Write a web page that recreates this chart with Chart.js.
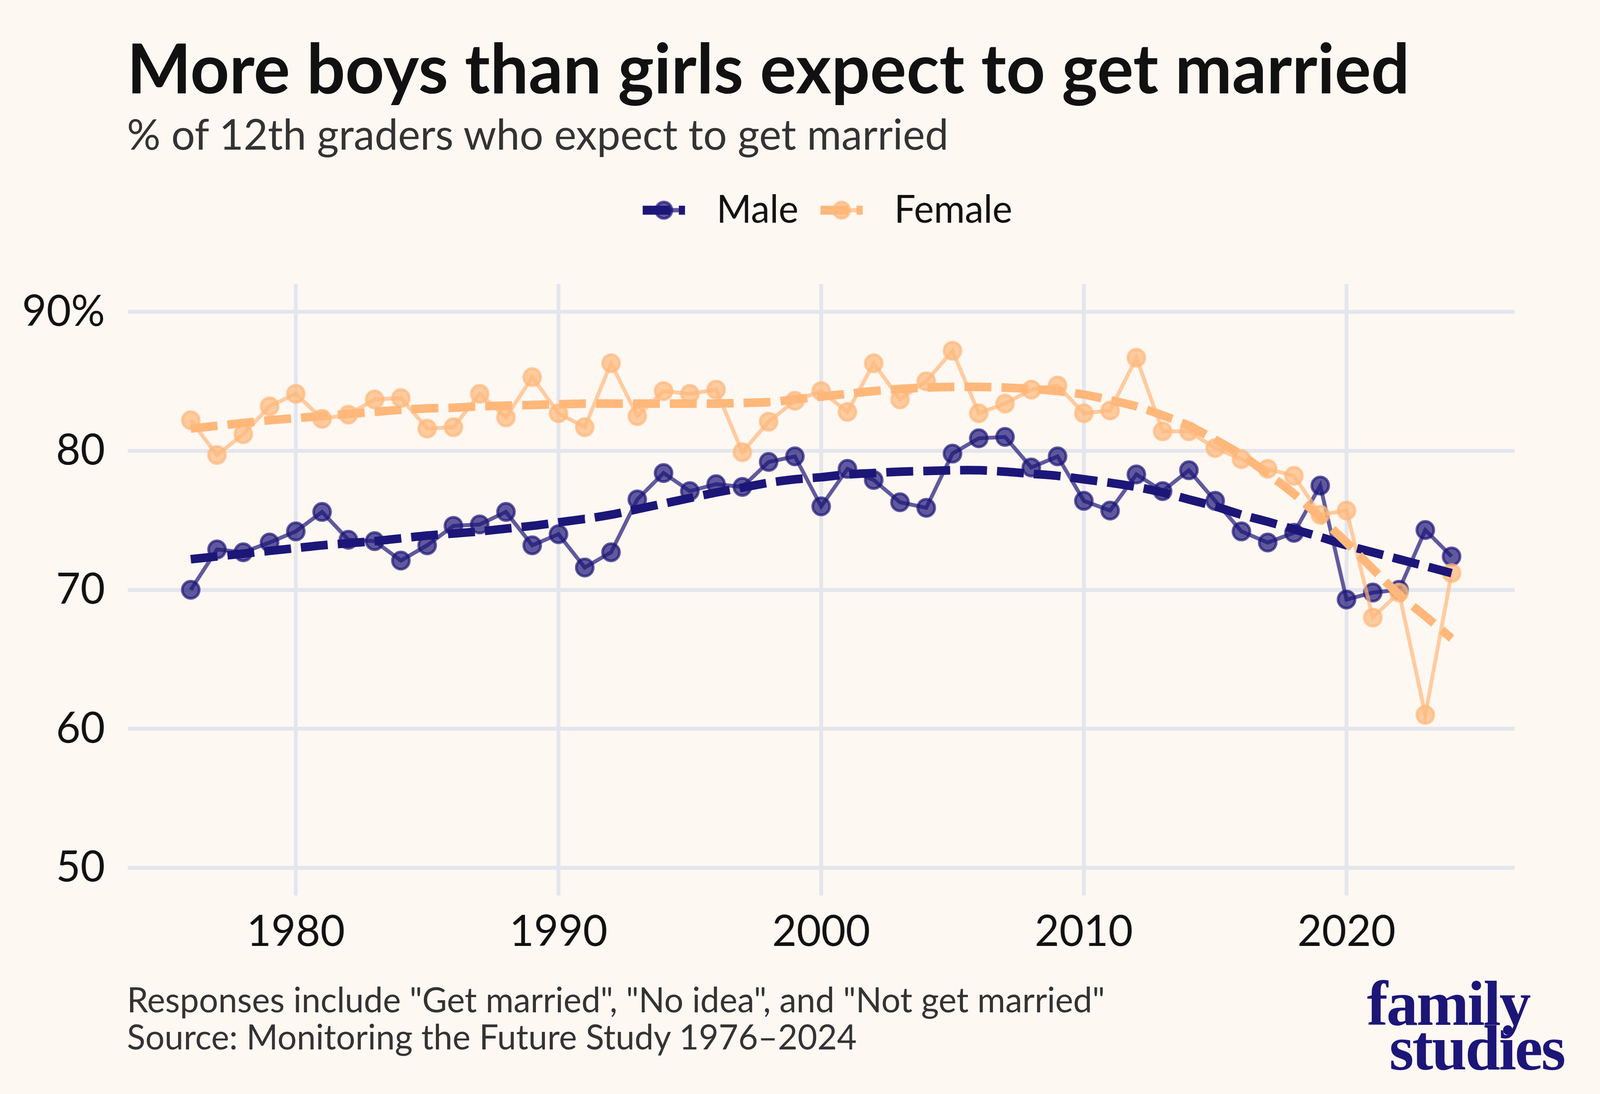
<!DOCTYPE html>
<html>
<head>
<meta charset="utf-8">
<script src="https://cdn.jsdelivr.net/npm/chart.js@4.4.1/dist/chart.umd.min.js"></script>
<style>
  html, body { margin: 0; padding: 0; background: #fef8f3; overflow: hidden; }
  #wrap { position: relative; width: 4160px; height: 2800px; overflow: hidden; font-family: Lato, sans-serif;
          transform-origin: 0 0; }
  #c { position: absolute; left: 0; top: 0; }
  .txt { position: absolute; left: 330px; line-height: 1; white-space: nowrap; }
  #title { top: 82px; font-size: 177px; font-weight: 700; color: #111; }
  #sub { top: 286px; font-size: 109px; color: #333; }
  #note { top: 2510px; font-size: 88.5px; line-height: 95px; color: #333; }
  .logo { position: absolute; font-family: "Liberation Serif", serif; font-weight: 700; font-size: 164px;
          line-height: 114px; letter-spacing: -4px; color: #1c1678; white-space: nowrap; }
</style>
</head>
<body>
<div id="wrap">
  <canvas id="c" width="4160" height="2800"></canvas>
  <div class="txt" id="title">More boys than girls expect to get married</div>
  <div class="txt" id="sub">% of 12th graders who expect to get married</div>
  <div class="txt" id="note">Responses include "Get married", "No idea", and "Not get married"<br>Source: Monitoring the Future Study 1976–2024</div>
  <div class="logo" style="left:3554px; top:2511px;">family</div>
  <div class="logo" style="left:3612px; top:2625px;">studies</div>
</div>
<script>
// the page is laid out at 4160 wide; squeeze it if the window is narrower
const sx = Math.min(1, window.innerWidth / 4160);
document.getElementById('wrap').style.transform = 'scaleX(' + sx + ')';

// survey years
const years = [1976, 1977, 1978, 1979, 1980, 1981, 1982, 1983, 1984, 1985,
  1986, 1987, 1988, 1989, 1990, 1991, 1992, 1993, 1994, 1995,
  1996, 1997, 1998, 1999, 2000, 2001, 2002, 2003, 2004, 2005,
  2006, 2007, 2008, 2009, 2010, 2011, 2012, 2013, 2014, 2015,
  2016, 2017, 2018, 2019, 2020, 2021, 2022, 2023, 2024];

// % expecting to get married
const male = [70.0, 72.9, 72.7, 73.4, 74.2, 75.6, 73.6, 73.5, 72.1, 73.2,
  74.6, 74.7, 75.6, 73.2, 74.0, 71.6, 72.7, 76.5, 78.4, 77.1,
  77.6, 77.4, 79.2, 79.6, 76.0, 78.7, 77.9, 76.3, 75.9, 79.8,
  80.9, 81.0, 78.8, 79.6, 76.4, 75.7, 78.3, 77.1, 78.6, 76.4,
  74.2, 73.4, 74.1, 77.5, 69.3, 69.8, 70.0, 74.3, 72.4];

const female = [82.2, 79.7, 81.2, 83.2, 84.1, 82.3, 82.6, 83.7, 83.8, 81.6,
  81.7, 84.1, 82.4, 85.3, 82.7, 81.7, 86.3, 82.5, 84.3, 84.1,
  84.4, 79.9, 82.1, 83.6, 84.3, 82.8, 86.3, 83.7, 85.0, 87.2,
  82.7, 83.4, 84.4, 84.7, 82.7, 82.9, 86.7, 81.4, 81.4, 80.2,
  79.4, 78.7, 78.2, 75.4, 75.7, 68.0, 69.8, 61.0, 71.2];

// smoothed trend lines
const maleTrend = [72.2, 72.4, 72.6, 72.8, 73.0, 73.2, 73.35, 73.5, 73.7, 73.9,
  74.05, 74.2, 74.4, 74.6, 74.85, 75.1, 75.4, 75.8, 76.2, 76.6,
  77.0, 77.35, 77.7, 77.95, 78.1, 78.3, 78.4, 78.5, 78.55, 78.6,
  78.6, 78.5, 78.35, 78.2, 77.95, 77.7, 77.4, 77.0, 76.5, 76.0,
  75.4, 74.9, 74.35, 73.8, 73.2, 72.7, 72.2, 71.7, 71.2];

const femaleTrend = [81.6, 81.8, 82.0, 82.2, 82.35, 82.5, 82.65, 82.8, 82.95, 83.05,
  83.1, 83.2, 83.25, 83.3, 83.35, 83.4, 83.4, 83.4, 83.4, 83.4,
  83.4, 83.45, 83.5, 83.7, 83.9, 84.1, 84.3, 84.45, 84.55, 84.6,
  84.6, 84.55, 84.45, 84.3, 84.05, 83.65, 83.2, 82.55, 81.8, 80.8,
  79.7, 78.35, 76.9, 75.2, 73.4, 71.5, 69.65, 68.1, 66.5];

const yTicks = [50, 60, 70, 80, 90];

const NAVY = '#1c1678';
const NAVY_A = 'rgba(28, 22, 120, 0.7)';
const PEACH = '#ffb87a';
const PEACH_A = 'rgba(255, 184, 122, 0.7)';
const GRID = '#e4e6ed';

const pts = arr => years.map((yr, i) => ({ x: yr, y: arr[i] }));

// legend key: line + point + dashed trend, like the ggplot key
function legendIcon(lineCol, trendCol) {
  const c = document.createElement('canvas');
  c.width = 110; c.height = 60;
  const g = c.getContext('2d');
  g.strokeStyle = lineCol; g.lineWidth = 11;
  g.beginPath(); g.moveTo(0, 30); g.lineTo(110, 30); g.stroke();
  g.beginPath(); g.arc(55, 30, 21, 0, Math.PI * 2);
  g.fillStyle = lineCol; g.fill();
  g.lineWidth = 7; g.stroke();
  g.strokeStyle = trendCol; g.lineWidth = 23; g.setLineDash([72, 22]);
  g.beginPath(); g.moveTo(0, 30); g.lineTo(110, 30); g.stroke();
  return c;
}
const icons = [legendIcon(NAVY_A, NAVY), legendIcon(PEACH_A, PEACH)];

Chart.defaults.font.family = 'Lato';
Chart.defaults.color = '#111';

const gridOpts = { color: GRID, lineWidth: 10, drawTicks: false };

new Chart(document.getElementById('c'), {
  type: 'line',
  data: {
    datasets: [
      {
        label: 'Male', data: pts(male), order: 4,
        borderColor: NAVY_A, borderWidth: 10,
        pointRadius: 22, pointBorderWidth: 7,
        pointBackgroundColor: NAVY_A, pointBorderColor: NAVY_A
      },
      {
        label: 'Female', data: pts(female), order: 3,
        borderColor: PEACH_A, borderWidth: 10,
        pointRadius: 22, pointBorderWidth: 7,
        pointBackgroundColor: PEACH_A, pointBorderColor: PEACH_A
      },
      {
        label: 'Male trend', data: pts(maleTrend), order: 2,
        borderColor: NAVY, borderWidth: 22, borderDash: [70, 26],
        pointRadius: 0, tension: 0.3
      },
      {
        label: 'Female trend', data: pts(femaleTrend), order: 1,
        borderColor: PEACH, borderWidth: 22, borderDash: [70, 26],
        pointRadius: 0, tension: 0.3
      }
    ]
  },
  options: {
    responsive: false,
    animation: false,
    devicePixelRatio: 1,
    layout: { padding: { left: 32, right: 222, top: 465, bottom: 308 } },
    plugins: {
      tooltip: { enabled: false },
      legend: {
        position: 'top',
        fullSize: false,
        labels: {
          usePointStyle: true,
          pointStyleWidth: 176,
          padding: 24,
          color: '#111',
          font: { size: 98 },
          sort: (a, b) => a.datasetIndex - b.datasetIndex,
          generateLabels: chart => Chart.defaults.plugins.legend.labels.generateLabels(chart)
            .filter(l => l.datasetIndex < 2)
            .map(l => { l.pointStyle = icons[l.datasetIndex]; return l; })
        }
      },
      // empty spacer between the legend and the panel
      subtitle: {
        display: true, text: '', weight: 100,
        font: { size: 10, lineHeight: 1 },
        padding: { top: 0, bottom: 120 }
      }
    },
    scales: {
      x: {
        type: 'linear', min: 1973.6, max: 2026.4,
        afterFit: s => { s.height = 200; },
        border: { display: false },
        grid: gridOpts,
        ticks: {
          stepSize: 10, includeBounds: false, padding: 28, maxRotation: 0,
          color: '#111', font: { size: 110 },
          callback: v => String(v)
        }
      },
      y: {
        min: 48, max: 92,
        afterFit: s => { s.width = 300; },
        border: { display: false },
        grid: gridOpts,
        afterBuildTicks: s => { s.ticks = yTicks.map(v => ({ value: v })); },
        ticks: {
          padding: 59, color: '#111', font: { size: 110 },
          callback: v => v === 90 ? '90%' : String(v)
        }
      }
    }
  }
});
</script>
</body>
</html>
